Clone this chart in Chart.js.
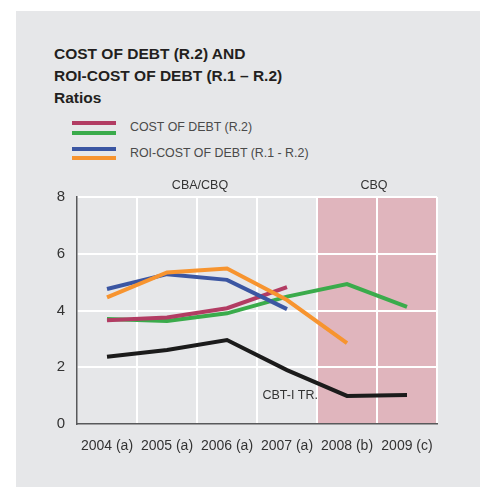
<!DOCTYPE html>
<html>
<head>
<meta charset="utf-8">
<script src="https://cdn.jsdelivr.net/npm/chart.js@4.4.1/dist/chart.umd.min.js"></script>
<style>
  body { margin: 0; width: 480px; height: 487px; background: #fff; position: relative; overflow: hidden;
         font-family: "Liberation Sans", Arial, sans-serif; }
  #panel { position: absolute; left: 16px; top: 11px; width: 464px; height: 476px; background: #e6e7e9; }
  #title { position: absolute; left: 54px; top: 43px; font-weight: bold; font-size: 15.5px; line-height: 22px; color: #231f20; }
  .sw { position: absolute; left: 72px; width: 44px; height: 3.5px; }
  .lt { position: absolute; left: 130px; font-size: 12.4px; line-height: 16px; color: #4a4a4a; white-space: nowrap; }
  #chartBox { position: absolute; left: 0; top: 0; width: 480px; height: 487px; }
</style>
</head>
<body>
<div id="panel"></div>
<div id="title">COST OF DEBT (R.2) AND<br>ROI-COST OF DEBT (R.1 – R.2)<br>Ratios</div>
<div class="sw" style="top:121px;background:#b23c63"></div>
<div class="sw" style="top:131px;background:#3aab4b"></div>
<div class="lt" style="top:119px">COST OF DEBT (R.2)</div>
<div class="sw" style="top:147px;background:#3b56a2"></div>
<div class="sw" style="top:156px;background:#f7942f"></div>
<div class="lt" style="top:145px">ROI-COST OF DEBT (R.1 - R.2)</div>
<div id="chartBox"><canvas id="ratioChart" width="480" height="487"></canvas></div>
<script>
// years on the x axis
const years = ['2004 (a)', '2005 (a)', '2006 (a)', '2007 (a)', '2008 (b)', '2009 (c)'];

// cost of debt (R.2)
const costDebtCBA = [3.66, 3.75, 4.08, 4.82, null, null];
const costDebtCBQ = [3.70, 3.63, 3.90, 4.49, 4.93, 4.13];

// ROI - cost of debt (R.1 - R.2)
const roiSpreadCBA = [4.76, 5.28, 5.08, 4.05, null, null];
const roiSpreadCBQ = [4.46, 5.34, 5.48, 4.37, 2.85, null];

// CBT-I TR.
const cbtRate = [2.37, 2.61, 2.96, 1.90, 0.99, 1.02];

const yTicks = [0, 2, 4, 6, 8];

// shaded CBQ zone + text notes
const notesPlugin = {
  id: 'notes',
  beforeDraw(chart) {
    const { ctx, chartArea, scales: { x } } = chart;
    const left = (x.getPixelForValue(3) + x.getPixelForValue(4)) / 2;
    ctx.save();
    ctx.fillStyle = '#e0b5bd';
    ctx.fillRect(left, chartArea.top, chartArea.right - left, chartArea.bottom - chartArea.top);
    ctx.restore();
  },
  afterDatasetsDraw(chart) {
    const { ctx, chartArea, scales: { x, y } } = chart;
    const split = (x.getPixelForValue(3) + x.getPixelForValue(4)) / 2;
    ctx.save();
    ctx.font = '12.5px "Liberation Sans", Arial, sans-serif';
    ctx.fillStyle = '#333';
    ctx.textBaseline = 'middle';
    ctx.textAlign = 'center';
    ctx.fillText('CBA/CBQ', (chartArea.left + split) / 2 + 3, chartArea.top - 11);
    ctx.fillText('CBQ', (split + chartArea.right) / 2 - 3, chartArea.top - 11);
    ctx.textAlign = 'right';
    ctx.fillText('CBT-I TR.', split + 1, y.getPixelForValue(1.02));
    ctx.restore();
  }
};

const ctx = document.getElementById('ratioChart').getContext('2d');
const ratioChart = new Chart(ctx, {
  type: 'line',
  data: {
    labels: years,
    datasets: [
      { label: 'CBT-I TR.', data: cbtRate, borderColor: '#1b1b1b', order: 5 },
      { label: 'COST OF DEBT (R.2)', data: costDebtCBA, borderColor: '#b23c63', order: 3 },
      { label: 'COST OF DEBT (R.2)', data: costDebtCBQ, borderColor: '#3aab4b', order: 4 },
      { label: 'ROI-COST OF DEBT (R.1 - R.2)', data: roiSpreadCBA, borderColor: '#3b56a2', order: 2 },
      { label: 'ROI-COST OF DEBT (R.1 - R.2)', data: roiSpreadCBQ, borderColor: '#f7942f', order: 1 }
    ].map(d => Object.assign(d, { borderWidth: 4, pointRadius: 0, tension: 0, fill: false, spanGaps: false }))
  },
  options: {
    responsive: false,
    animation: false,
    layout: { padding: { left: 47, right: 43, top: 197, bottom: 33 } },
    plugins: { legend: { display: false }, tooltip: { enabled: false } },
    scales: {
      x: {
        offset: true,
        afterFit: s => { s.height = 30; },
        grid: {
          offset: true, drawTicks: false, lineWidth: 2,
          color: c => (c.index === 0 ? 'rgba(0,0,0,0)' : '#ffffff')
        },
        border: { color: '#58595b', width: 1.5 },
        ticks: { color: '#333', padding: 14, font: { size: 14, family: '"Liberation Sans", Arial, sans-serif' } }
      },
      y: {
        min: 0,
        max: 8,
        afterFit: s => { s.width = 30; },
        afterBuildTicks: s => { s.ticks = yTicks.map(v => ({ value: v })); },
        grid: {
          drawTicks: false, lineWidth: 2,
          color: c => (c.tick && c.tick.value === 0 ? 'rgba(0,0,0,0)' : '#ffffff')
        },
        border: { color: '#58595b', width: 1.5 },
        ticks: { color: '#333', padding: 12, font: { size: 15, family: '"Liberation Sans", Arial, sans-serif' } }
      }
    }
  },
  plugins: [notesPlugin]
});
</script>
</body>
</html>
